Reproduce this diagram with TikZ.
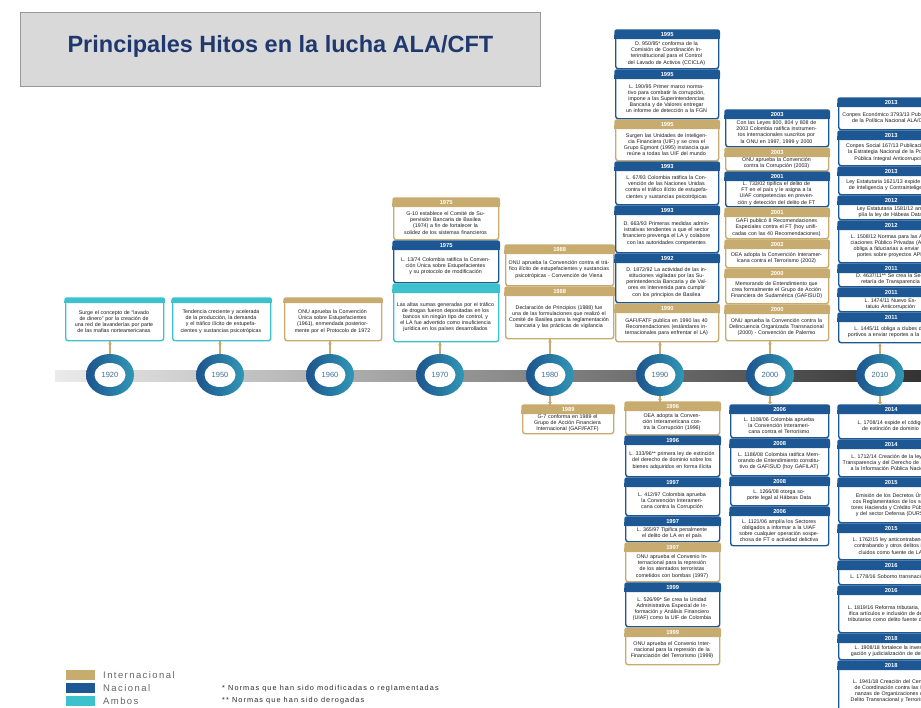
\documentclass[tikz,border=0pt]{standalone}
\usepackage{fontspec}
\setmainfont{Liberation Sans}
\newfontfamily\widesans[LetterSpace=15]{Liberation Sans}
\usetikzlibrary{shapes.geometric,calc}
\definecolor{cgold}{RGB}{200,171,110}
\definecolor{cblue}{RGB}{30,88,148}
\definecolor{cteal}{RGB}{60,194,204}
\definecolor{ctitle}{RGB}{31,56,110}
\definecolor{cyear}{RGB}{60,110,150}
\definecolor{ctbox}{RGB}{217,217,217}
\tikzset{
 boxframe/.style={rectangle, rounded corners=2.5pt, line width=1.4pt, fill=white, inner sep=0pt},
 yearlbl/.style={text=white, font=\fontsize{5.8}{6}\selectfont\bfseries, inner sep=0pt},
 boxtext/.style={align=center, font=\fontsize{5.3}{6.1}\selectfont, text=black!90, inner sep=0pt},
 conn/.style={draw=cgold, line width=1.3pt},
 pin/.style={circle, fill=cgold, inner sep=0pt, minimum size=3.6pt},
 yrcirc/.style={ellipse, minimum width=48pt, minimum height=42pt, inner sep=0pt, left color=cblue!95!black, right color=cteal!60!cblue},
 yrin/.style={ellipse, fill=white, minimum width=31pt, minimum height=24pt, inner sep=0pt, text=cyear, font=\fontsize{7.5}{8}\selectfont},
 legbox/.style={rectangle, minimum width=29pt, minimum height=10pt, inner sep=0pt, anchor=west},
 legtxt/.style={anchor=west, inner sep=0pt, text=black!60, font=\fontsize{9.5}{10}\selectfont\widesans},
 notetxt/.style={anchor=west, inner sep=0pt, text=black!85, font=\fontsize{7.3}{8}\selectfont\widesans}
}
\def\hh{9}
\newcommand{\ebox}[8]{%
 \pgfmathsetmacro\bh{#6-#5}%
 \pgfmathsetmacro\tw{#4-7}%
 \pgfmathsetmacro\xc{#3+#4/2}%
 \pgfmathsetmacro\yc{(#5+\hh+#6)/2}%
 \node[boxframe, draw=#2, minimum width=#4pt, minimum height=\bh pt, anchor=north west] (#1) at (#3,#5) {};
 \fill[#2, rounded corners=2.5pt] ([xshift=-0.7pt,yshift=0.7pt]#1.north west) rectangle ([xshift=0.7pt,yshift=-\hh pt]#1.north east);
 \fill[#2] ([xshift=-0.7pt,yshift=-\hh pt/2]#1.north west) rectangle ([xshift=0.7pt,yshift=-\hh pt]#1.north east);
 \node[yearlbl] (#1y) at ([yshift=-\hh pt/2]#1.north) {#7};
 \node[boxtext, text width=\tw pt] (#1t) at (\xc,\yc) {#8};
}
\begin{document}
\begin{tikzpicture}[x=1pt,y=-1pt]
\useasboundingbox (0,0) rectangle (921,707);
\fill[white] (0,0) rectangle (921,707);
\clip (0,0) rectangle (921,707);
% title
\node[rectangle, fill=ctbox, draw=black!40, line width=0.8pt, minimum width=520pt, minimum height=74pt, anchor=north west] (titlebox) at (20,12) {};
\node[text=ctitle, font=\fontsize{23.5}{26}\selectfont\bfseries] (title) at ([yshift=3pt]titlebox.center) {Principales Hitos en la lucha ALA/CFT};
% axis
\shade[left color=black!8, right color=black!80] (55,370) rectangle (921,381);
% circles
\foreach \yr/\xx in {1920/110,1950/220,1960/330,1970/440,1980/550,1990/660,2000/770,2010/880}{
 \node[yrcirc] (c\yr) at (\xx,375) {};
 \node[yrin] (c\yr i) at (\xx,375) {\yr};
}
% early boxes
\def\hh{5}
\ebox{b1920}{cteal}{65}{98}{298}{340}{}{Surge el concepto de “lavado de dinero” por la creación de una red de lavanderías por parte de las mafias norteamericanas}
\ebox{b1950}{cteal}{172}{98}{298}{340}{}{Tendencia creciente y acelerada de la producción, la demanda y el tráfico ilícito de estupefacientes y sustancias psicotrópicas}
\ebox{b1960}{cgold}{284}{97}{298}{340}{}{ONU aprueba la Convención Única sobre Estupefacientes (1961), enmendada posteriormente por el Protocolo de 1972}
\def\hh{9}
% 1970
\ebox{b1975a}{cgold}{393}{105}{198}{239}{1975}{G-10 establece el Comité de Supervisión Bancaria de Basilea (1974) a fin de fortalecer la solidez de los sistemas financieros}
\ebox{b1975b}{cblue}{393}{105}{241}{282}{1975}{L. 13/74 Colombia ratifica la Convención Única sobre Estupefacientes y su protocolo de modificación}
\ebox{b1970}{cteal}{393}{105}{284}{341}{}{Las altas sumas generadas por el tráfico de drogas fueron depositadas en los bancos sin ningún tipo de control, y el LA fue advertido como insuficiencia jurídica en los países desarrollados}
% 1980
\ebox{b1988a}{cgold}{505}{108}{245}{285}{1988}{ONU aprueba la Convención contra el tráfico ilícito de estupefacientes y sustancias psicotrópicas - Convención de Viena}
\ebox{b1988b}{cgold}{505}{108}{287}{338}{1988}{Declaración de Principios (1988) fue una de las formulaciones que realizó el Comité de Basilea para la reglamentación bancaria y las prácticas de vigilancia}
\ebox{b1989}{cgold}{522}{91}{405}{433}{1989}{G-7 conforma en 1989 el Grupo de Acción Financiera Internacional (GAFI/FATF)}
% 1990 above
\ebox{b1995a}{cblue}{615}{103}{30}{68}{1995}{D. 950/95* conforma de la Comisión de Coordinación Interinstitucional para el Control del Lavado de Activos (CCICLA)}
\ebox{b1995b}{cblue}{615}{103}{70}{118}{1995}{L. 190/95 Primer marco normativo para combatir la corrupción, impone a las Superintendencias Bancaria y de Valores entregar un informe de detección a la FGN}
\ebox{b1995c}{cgold}{615}{103}{120}{160}{1995}{Surgen las Unidades de Inteligencia Financiera (UIF) y se crea el Grupo Egmont (1995) instancia que reúne a todas las UIF del mundo}
\ebox{b1993a}{cblue}{615}{103}{162}{204}{1993}{L. 67/93 Colombia ratifica la Convención de las Naciones Unidas contra el tráfico ilícito de estupefacientes y sustancias psicotrópicas}
\ebox{b1993b}{cblue}{615}{103}{206}{252}{1993}{D. 663/93 Primeras medidas administrativas tendientes a que el sector financiero prevenga el LA y colabore con las autoridades competentes}
\ebox{b1992}{cblue}{615}{103}{254}{302}{1992}{D. 1872/92 La actividad de las instituciones vigiladas por las Superintendencia Bancaria y de Valores es intervenida para cumplir con los principios de Basilea}
\ebox{b1990}{cgold}{615}{103}{304}{341}{1990}{GAFI/FATF publica en 1990 las 40 Recomendaciones (estándares internacionales para enfrentar el LA)}
% 1990 below
\ebox{b1996a}{cgold}{625}{94}{402}{434}{1996}{OEA adopta la Convención Interamericana contra la Corrupción (1996)}
\ebox{b1996b}{cblue}{625}{94}{436}{476}{1996}{L. 333/96** primera ley de extinción del derecho de dominio sobre los bienes adquiridos en forma ilícita}
\ebox{b1997a}{cblue}{625}{94}{478}{515}{1997}{L. 412/97 Colombia aprueba la Convención Interamericana contra la Corrupción}
\ebox{b1997b}{cblue}{625}{94}{517}{541}{1997}{L. 365/97 Tipifica penalmente el delito de LA en el país}
\ebox{b1997c}{cgold}{625}{94}{543}{581}{1997}{ONU aprueba el Convenio Internacional para la represión de los atentados terroristas cometidos con bombas (1997)}
\ebox{b1999a}{cblue}{625}{94}{583}{626}{1999}{L. 526/99* Se crea la Unidad Administrativa Especial de Información y Análisis Financiero (UIAF) como la UIF de Colombia}
\ebox{b1999b}{cgold}{625}{94}{628}{664}{1999}{ONU aprueba el Convenio Internacional para la represión de la Financiación del Terrorismo (1999)}
% 2000 above
\ebox{b2003a}{cblue}{725}{103}{110}{146}{2003}{Con las Leyes 800, 804 y 808 de 2003 Colombia ratifica instrumentos internacionales suscritos por la ONU en 1997, 1999 y 2000}
\ebox{b2003b}{cgold}{725}{103}{148}{170}{2003}{ONU aprueba la Convención contra la Corrupción (2003)}
\ebox{b2001a}{cblue}{725}{103}{172}{206}{2001}{L. 733/02 tipifica el delito de FT en el país y le asigna a la UIAF competencias en prevención y detección del delito de FT}
\ebox{b2001b}{cgold}{725}{103}{208}{238}{2001}{GAFI publicó 8 Recomendaciones Especiales contra el FT (hoy unificadas con las 40 Recomendaciones)}
\ebox{b2002}{cgold}{725}{103}{240}{267}{2002}{OEA adopta la Convención Interamericana contra el Terrorismo (2002)}
\ebox{b2000a}{cgold}{725}{103}{269}{303}{2000}{Memorando de Entendimiento que crea formalmente el Grupo de Acción Financiera de Sudamérica (GAFISUD)}
\ebox{b2000b}{cgold}{725}{103}{305}{340}{2000}{ONU aprueba la Convención contra la Delincuencia Organizada Transnacional (2000) - Convención de Palermo}
% 2000 below
\ebox{b2006a}{cblue}{730}{98}{405}{437}{2006}{L. 1108/06 Colombia aprueba la Convención Interamericana contra el Terrorismo}
\ebox{b2008a}{cblue}{730}{98}{439}{475}{2008}{L. 1186/08 Colombia ratifica Memorando de Entendimiento constitutivo de GAFISUD (hoy GAFILAT)}
\ebox{b2008b}{cblue}{730}{98}{477}{505}{2008}{L. 1266/08 otorga soporte legal al Hábeas Data}
\ebox{b2006b}{cblue}{730}{98}{507}{545}{2006}{L. 1121/06 amplía los Sectores obligados a informar a la UIAF sobre cualquier operación sospechosa de FT o actividad delictiva}
% 2010 above
\ebox{b2013a}{cblue}{838}{105}{98}{129}{2013}{Conpes Económico 3793/13 Publicación de la Política Nacional ALA/CFT}
\ebox{b2013b}{cblue}{838}{105}{131}{165}{2013}{Conpes Social 167/13 Publicación de la Estrategia Nacional de la Política Pública Integral Anticorrupción}
\ebox{b2013c}{cblue}{838}{105}{167}{194}{2013}{Ley Estatutaria 1621/13 expide la ley de Inteligencia y Contrainteligencia}
\ebox{b2012a}{cblue}{838}{105}{196}{219}{2012}{Ley Estatutaria 1581/12 amplía la ley de Hábeas Data}
\ebox{b2012b}{cblue}{838}{105}{221}{262}{2012}{L. 1508/12 Normas para las Asociaciones Público Privadas (APP) obliga a fiduciarias a enviar reportes sobre proyectos APP}
\ebox{b2011a}{cblue}{838}{105}{264}{286}{2011}{D. 4637/11** Se crea la Secretaría de Transparencia}
\ebox{b2011b}{cblue}{838}{105}{288}{311}{2011}{L. 1474/11 Nuevo Estatuto Anticorrupción}
\ebox{b2011c}{cblue}{838}{105}{313}{342}{2011}{L. 1445/11 obliga a clubes deportivos a enviar reportes a la UIAF}
% 2010 below
\ebox{b2014a}{cblue}{838}{105}{405}{438}{2014}{L. 1708/14 expide el código de extinción de dominio}
\ebox{b2014b}{cblue}{838}{105}{440}{476}{2014}{L. 1712/14 Creación de la ley de Transparencia y del Derecho de Acceso a la Información Pública Nacional}
\ebox{b2015a}{cblue}{838}{105}{478}{522}{2015}{Emisión de los Decretos Únicos Reglamentarios de los sectores Hacienda y Crédito Público y del sector Defensa (DURS)}
\ebox{b2015b}{cblue}{838}{105}{524}{559}{2015}{L. 1762/15 ley anticontrabando, contrabando y otros delitos incluidos como fuente de LA}
\ebox{b2016a}{cblue}{838}{105}{561}{584}{2016}{L. 1778/16 Soborno transnacional}
\ebox{b2016b}{cblue}{838}{105}{586}{632}{2016}{L. 1819/16 Reforma tributaria, modifica artículos e inclusión de delitos tributarios como delito fuente de LA}
\ebox{b2018a}{cblue}{838}{105}{634}{659}{2018}{L. 1908/18 fortalece la investigación y judicialización de delitos}
\ebox{b2018b}{cblue}{838}{105}{661}{712}{2018}{L. 1941/18 Creación del Centro de Coordinación contra las Finanzas de Organizaciones de Delito Transnacional y Terrorismo}
% connectors above
\foreach \c/\b in {1920/b1920,1950/b1950,1960/b1960,1970/b1970,1980/b1988b,1990/b1990,2000/b2000b,2010/b2011c}{
 \draw[conn] (c\c.north) -- (c\c.north |- \b.south);
 \node[pin] (p\c) at ([yshift=-2.5pt]c\c.north |- \b.south) {};
}
% connectors below
\foreach \c/\b in {1980/b1989,1990/b1996a,2000/b2006a,2010/b2014a}{
 \draw[conn] (c\c.south) -- (c\c.south |- \b.north);
 \node[pin] (q\c) at ([yshift=2.5pt]c\c.south |- \b.north) {};
}
% legend
\node[legbox, fill=cgold] (lg1) at (66,675) {};
\node[legbox, fill=cblue] (lg2) at (66,688) {};
\node[legbox, fill=cteal] (lg3) at (66,701) {};
\node[legtxt] (lt1) at (103,675) {Internacional};
\node[legtxt] (lt2) at (103,688) {Nacional};
\node[legtxt] (lt3) at (103,701) {Ambos};
\node[notetxt] (n1) at (222,689) {* Normas que han sido modificadas o reglamentadas};
\node[notetxt] (n2) at (222,701) {** Normas que han sido derogadas};
\end{tikzpicture}
\end{document}
